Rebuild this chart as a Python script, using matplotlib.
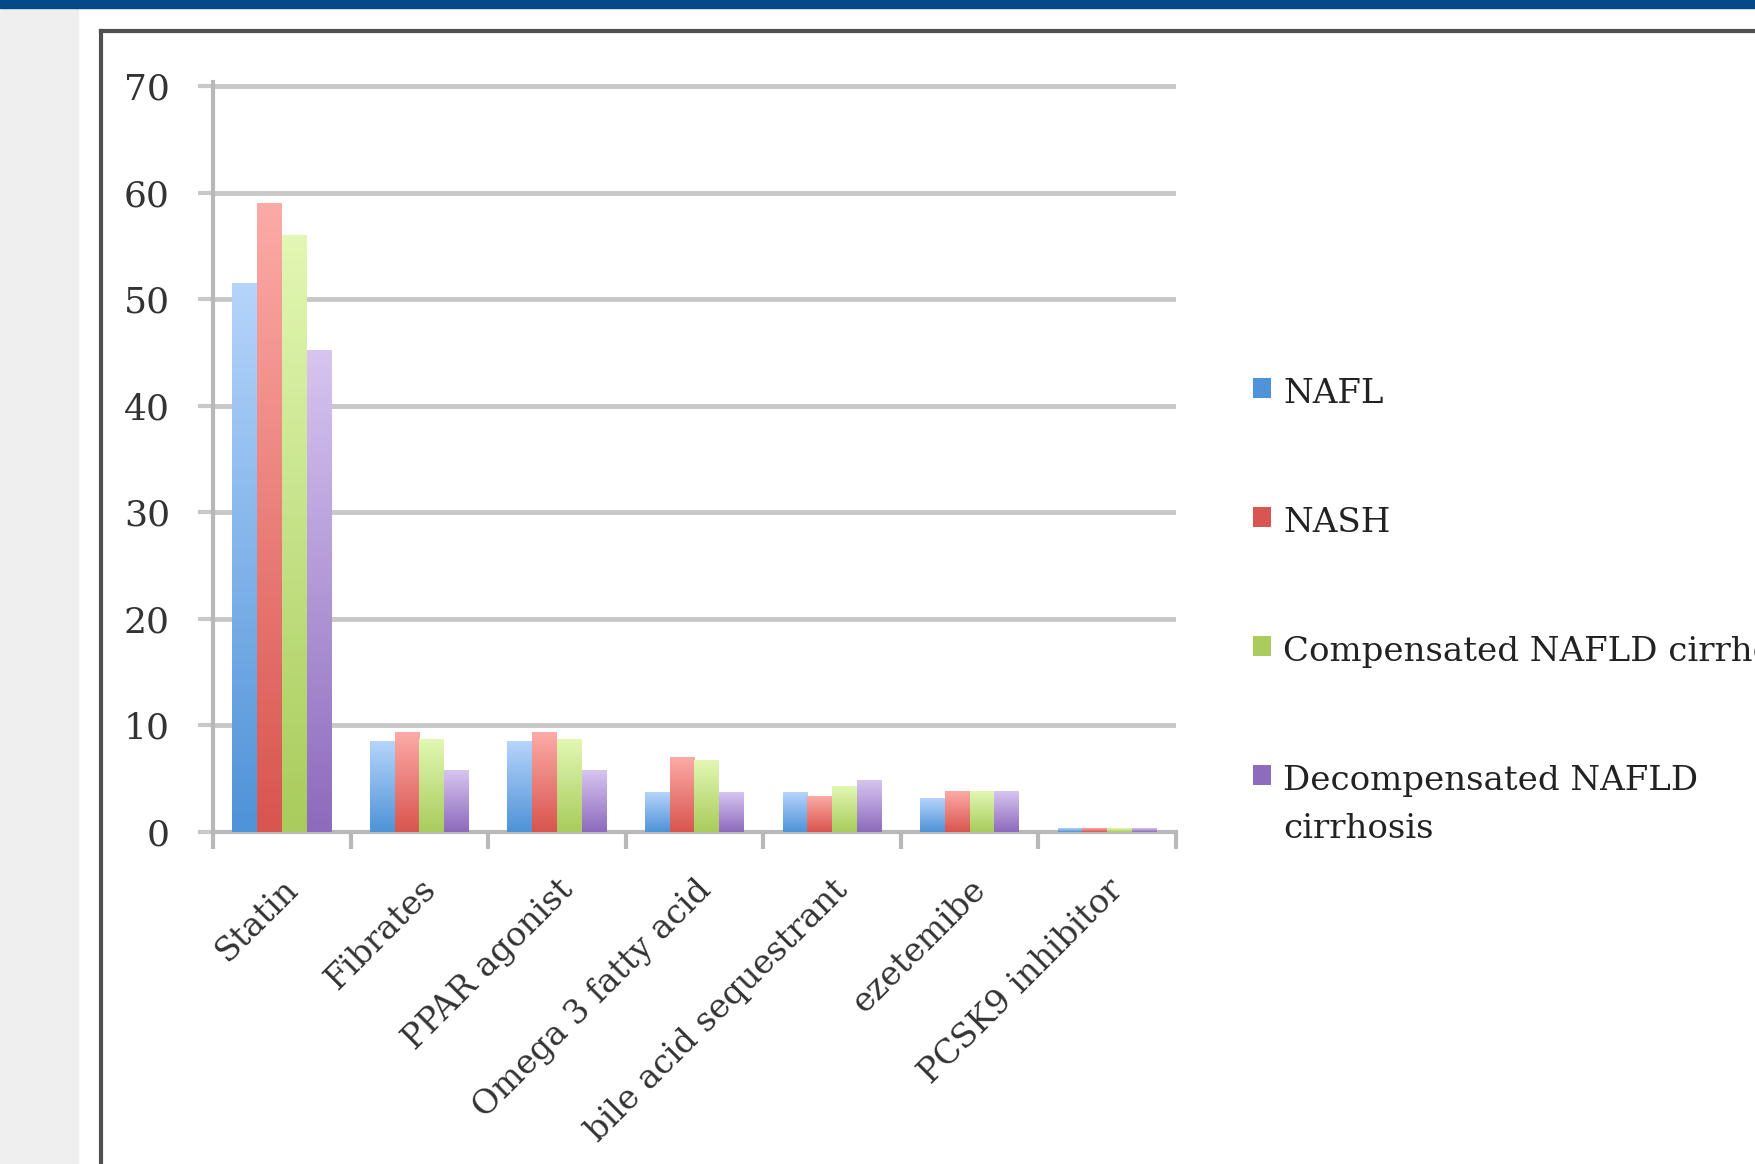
import numpy as np
from matplotlib import pyplot as plt
from matplotlib.patches import Rectangle, Patch
from matplotlib.lines import Line2D
from matplotlib.colors import LinearSegmentedColormap

categories = ["Statin", "Fibrates", "PPAR agonist", "Omega 3 fatty acid",
              "bile acid sequestrant", "ezetemibe", "PCSK9 inhibitor"]
series = ["NAFL", "NASH", "Compensated NAFLD cirrhosis",
          "Decompensated NAFLD\ncirrhosis"]
nafl = [51.5, 8.5, 8.5, 3.7, 3.7, 3.1, 0.3]
nash = [59.0, 9.3, 9.3, 7.0, 3.3, 3.8, 0.3]
comp = [56.0, 8.7, 8.7, 6.7, 4.3, 3.8, 0.3]
decomp = [45.2, 5.8, 5.8, 3.7, 4.8, 3.8, 0.3]
yticks = [0, 10, 20, 30, 40, 50, 60, 70]

# (bottom, top) colours of each gradient bar
shades = [("#4f93d8", "#b5d4fb"), ("#d9554f", "#fcaaa6"),
          ("#a9cc5c", "#e2f7b3"), ("#8d6bbd", "#d6c4f0")]

plt.rcParams["font.family"] = ["DejaVu Serif"]

fig = plt.figure(figsize=(17.56, 11.64), dpi=100)
W, H = 1756, 1164

# page decoration: blue band, grey side panel, frame
fig.patches.append(Rectangle((0, 0), 78 / W, 1, transform=fig.transFigure,
                             color="#efefef", zorder=0))
fig.patches.append(Rectangle((0, 1 - 8 / H), 1, 8 / H, transform=fig.transFigure,
                             color="#044a88", zorder=1))
fig.lines.append(Line2D([101 / W, 101 / W], [0, 1 - 31 / H], transform=fig.transFigure,
                        color="#505050", lw=3))
fig.lines.append(Line2D([101 / W, 1], [1 - 31 / H, 1 - 31 / H], transform=fig.transFigure,
                        color="#505050", lw=3))

ax = fig.add_axes([213 / W, 1 - 832 / H, (1176 - 213) / W, (832 - 82) / H])
ax.set_facecolor("none")

x = np.arange(len(categories))
bw = 0.18
values = [nafl, nash, comp, decomp]
for i, (vals, (lo, hi)) in enumerate(zip(values, shades)):
    pos = x + (i - 1.5) * bw
    ax.bar(pos, vals, bw, color=lo, alpha=0)
    cmap = LinearSegmentedColormap.from_list(f"g{i}", [lo, hi])
    grad = np.linspace(0, 1, 64).reshape(-1, 1)
    for p, v in zip(pos, vals):
        ax.imshow(grad, cmap=cmap, origin="lower", aspect="auto",
                  extent=(p - bw / 2, p + bw / 2, 0, v), zorder=3,
                  interpolation="bilinear")

ax.set_xlim(-0.5, len(categories) - 0.5)
ax.set_yticks(yticks)
ax.yaxis.grid(True, color="#c8c8c8", lw=3.5)
ax.set_axisbelow(True)
ax.set_xticks(x)
ax.set_xticklabels(categories, rotation=45, ha="right", rotation_mode="anchor",
                   fontsize=24, color="#333333")
ax.set_xticks(np.arange(-0.5, len(categories)), minor=True)
ax.tick_params(axis="x", which="major", length=0, pad=30)
ax.tick_params(axis="x", which="minor", length=12, width=3, color="#b8b8b8")
ax.tick_params(axis="y", length=11, width=3, color="#c8c8c8", pad=20,
               labelsize=26, labelcolor="#333333")
for s in ["top", "right"]:
    ax.spines[s].set_visible(False)
ax.spines["left"].set_color("#b8b8b8")
ax.spines["left"].set_linewidth(3)
ax.spines["bottom"].set_color("#b8b8b8")
ax.spines["bottom"].set_linewidth(3)
ax.set_ylim(0, 70.4)

handles = [Patch(facecolor=c[0]) for c in shades]
leg = fig.legend(handles, series, loc="upper left",
                 bbox_to_anchor=(1222 / W, 1 - 347 / H),
                 frameon=False, fontsize=24.5, handlelength=0.55, handleheight=0.55,
                 handletextpad=0.35, labelspacing=2.85, labelcolor="#222222")
for t in leg.get_texts():
    t.set_linespacing(1.65)
# put the swatch level with the first text line, as in the source chart
for col in leg._legend_handle_box.get_children():
    for row in col.get_children():
        row.align = "top"

fig.savefig("out.png", dpi=100)
